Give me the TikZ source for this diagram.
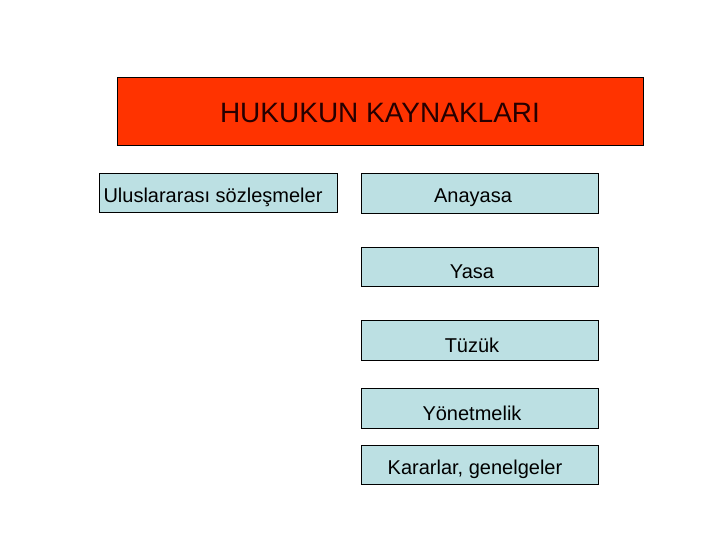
\documentclass[tikz,border=0pt]{standalone}
\usepackage{fontspec}
\setmainfont{Liberation Sans}
\definecolor{titlered}{HTML}{FF3300}
\definecolor{boxblue}{HTML}{BCE0E3}
\begin{document}
\begin{tikzpicture}[x=1pt,y=-1pt,
  titlebox/.style={draw=black,line width=0.9pt,fill=titlered,minimum width=526pt,minimum height=68pt,inner sep=0pt},
  bluebox/.style={draw=black,line width=0.8pt,fill=boxblue,minimum width=237pt,minimum height=39.5pt,inner sep=0pt},
  boxtext/.style={font=\fontsize{20}{24}\selectfont,inner sep=0pt}]
\useasboundingbox (0,0) rectangle (720,540);
\node[titlebox] (title) at (380,111) {};
\node[inner sep=0pt] (titletext) at (380,113) {\fontsize{28}{32}\selectfont\color{black!85!red}HUKUKUN KAYNAKLARI};
\node[bluebox,minimum width=238pt] (ulus) at (218,193) {};
\node[boxtext] (ulustext) at (213,197) {Uluslararası sözleşmeler};
\node[bluebox] (anayasa) at (479.5,193.5) {};
\node[boxtext] (anayasatext) at (473,198) {Anayasa};
\node[bluebox] (yasa) at (479.5,267) {};
\node[boxtext] (yasatext) at (472,272) {Yasa};
\node[bluebox] (tuzuk) at (479.5,340.5) {};
\node[boxtext] (tuzuktext) at (472,345) {Tüzük};
\node[bluebox] (yonet) at (479.5,408.5) {};
\node[boxtext] (yonettext) at (472,413) {Yönetmelik};
\node[bluebox] (karar) at (479.5,465) {};
\node[boxtext] (karartext) at (475,469) {Kararlar, genelgeler};
\end{tikzpicture}
\end{document}
